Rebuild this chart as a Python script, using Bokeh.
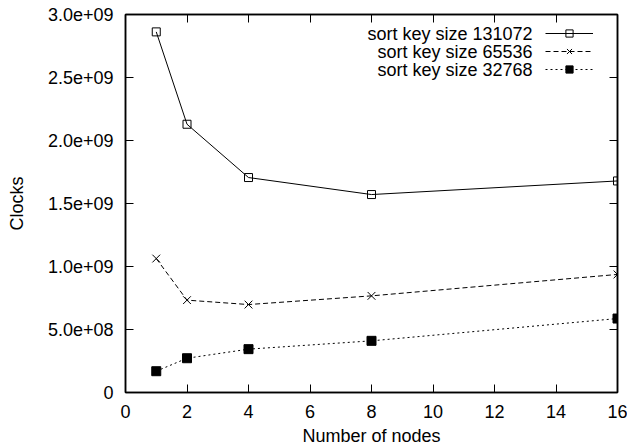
from bokeh.plotting import figure
from bokeh.models import Range1d, FixedTicker, LinearAxis, Legend, LegendItem, Label
from bokeh.embed import file_html
from bokeh.resources import INLINE

# ---- data ----
nodes = [1, 2, 4, 8, 16]
clocks_131072 = [2.862e9, 2.129e9, 1.706e9, 1.571e9, 1.679e9]
clocks_65536 = [1.063e9, 0.733e9, 0.698e9, 0.767e9, 0.937e9]
clocks_32768 = [0.169e9, 0.272e9, 0.344e9, 0.410e9, 0.587e9]
series_names = ["sort key size 131072", "sort key size 65536", "sort key size 32768"]
x_ticks = [0, 2, 4, 6, 8, 10, 12, 14, 16]
y_ticks = [0, 5e8, 1e9, 1.5e9, 2e9, 2.5e9, 3e9]
y_tick_labels = ["0", "5.0e+08", "1.0e+09", "1.5e+09", "2.0e+09", "2.5e+09", "3.0e+09"]
x_label = "Number of nodes"
y_label = "Clocks"

FONT = "Liberation Sans"
FS = "18px"

p = figure(width=627, height=448, x_range=Range1d(0, 16), y_range=Range1d(0, 3e9),
           output_backend="svg", toolbar_location=None,
           min_border_left=125, min_border_right=10, min_border_top=14, min_border_bottom=56)
p.xgrid.visible = False
p.ygrid.visible = False
p.outline_line_color = "black"
p.outline_line_width = 1.5
p.background_fill_color = "white"
p.border_fill_color = "white"

def style_axis(ax, labels=True):
    ax.axis_line_color = "black"
    ax.axis_line_width = 1.5
    ax.major_tick_in = 8
    ax.major_tick_out = 0
    ax.major_tick_line_color = "black"
    ax.major_tick_line_width = 1
    ax.minor_tick_line_color = None
    ax.major_label_text_font = FONT
    ax.axis_label_text_font = FONT
    ax.axis_label_text_font_size = FS
    ax.axis_label_text_font_style = "normal"
    ax.axis_label_text_color = "black"
    if labels:
        ax.major_label_text_font_size = FS
        ax.major_label_text_color = "black"
    else:
        ax.major_label_text_font_size = "1px"
        ax.major_label_text_color = None
        ax.major_label_standoff = 0

xax = p.xaxis[0]
yax = p.yaxis[0]
xax.ticker = FixedTicker(ticks=x_ticks)
yax.ticker = FixedTicker(ticks=y_ticks)
yax.major_label_overrides = {t: l for t, l in zip(y_ticks, y_tick_labels)}
style_axis(xax)
style_axis(yax)
xax.axis_label = x_label
yax.axis_label = y_label
xax.major_label_standoff = 12
xax.axis_label_standoff = 5
yax.major_label_standoff = 12
yax.axis_label_standoff = 18

top_ax = LinearAxis(ticker=FixedTicker(ticks=x_ticks))
right_ax = LinearAxis(ticker=FixedTicker(ticks=y_ticks))
style_axis(top_ax, labels=False)
style_axis(right_ax, labels=False)
p.add_layout(top_ax, "above")
p.add_layout(right_ax, "right")

# ---- series ----
l1 = p.line(nodes, clocks_131072, line_color="black", line_width=1)
s1 = p.scatter(nodes, clocks_131072, marker="square", size=8, line_color="black",
               fill_color=None, line_width=1)
l2 = p.line(nodes, clocks_65536, line_color="black", line_width=1, line_dash="5 3")
s2 = p.scatter(nodes, clocks_65536, marker="x", size=11, line_color="black", line_width=1)
l3 = p.line(nodes, clocks_32768, line_color="black", line_width=1, line_dash="2 3")
s3 = p.scatter(nodes, clocks_32768, marker="square", size=9, line_color="black",
               fill_color="black", line_width=1)

legend = Legend(items=[LegendItem(label=" ", renderers=[l1, s1]),
                       LegendItem(label=" ", renderers=[l2, s2]),
                       LegendItem(label=" ", renderers=[l3, s3])],
                location=(420, 314), glyph_width=48, glyph_height=18, spacing=0,
                padding=0, margin=0, label_standoff=0, label_text_font_size="8px",
                border_line_color=None, background_fill_color=None)
p.add_layout(legend)

row_y = [359, 341, 323]
for name, yy in zip(series_names, row_y):
    p.add_layout(Label(x=407, y=yy, x_units="screen", y_units="screen", text=name,
                       text_align="right", text_baseline="middle", text_font=FONT,
                       text_font_size=FS, text_color="black"))

open("out.html", "w").write(file_html(p, INLINE))
